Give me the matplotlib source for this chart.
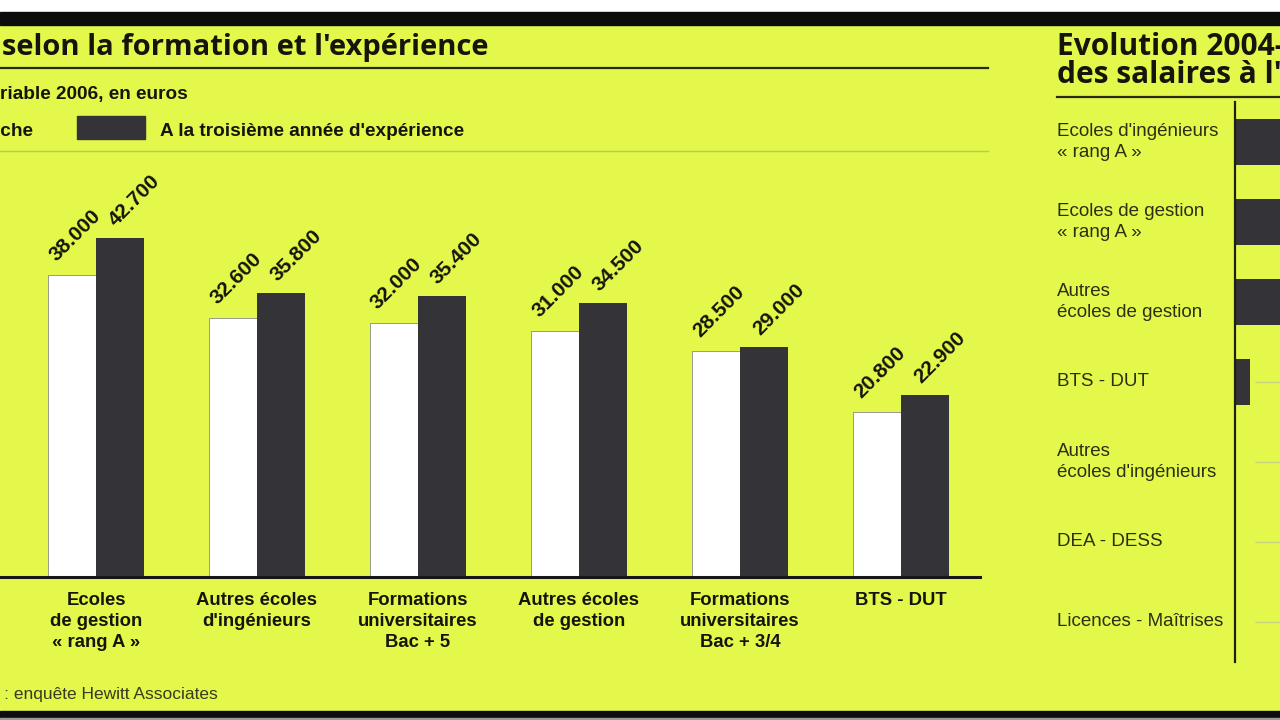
import matplotlib
matplotlib.use('Agg')
import matplotlib.pyplot as plt
from matplotlib.patches import Rectangle

# salaires fixe + variable 2006, en euros
categories = ["Ecoles d'ingénieurs\n« rang A »", "Ecoles\nde gestion\n« rang A »",
              "Autres écoles\nd'ingénieurs", "Formations\nuniversitaires\nBac + 5",
              "Autres écoles\nde gestion", "Formations\nuniversitaires\nBac + 3/4",
              "BTS - DUT"]
embauche = [38600, 38000, 32600, 32000, 31000, 28500, 20800]
troisieme = [42300, 42700, 35800, 35400, 34500, 29000, 22900]

# évolution 2004-2006 (panneau de droite, en grande partie hors cadre)
evo_labels = ["Ecoles d'ingénieurs\n« rang A »", "Ecoles de gestion\n« rang A »",
              "Autres\nécoles de gestion", "BTS - DUT",
              "Autres\nécoles d'ingénieurs", "DEA - DESS", "Licences - Maîtrises"]
evo_values = [11.0, 10.0, 9.5, 3.0, 0.0, 0.0, 0.0]

BG = '#e3f84b'
DARK = '#333338'
INK = '#15150c'
W, H = 1280, 720

cond = ['Liberation Sans', 'DejaVu Sans']
title_font = ['Open Sans', 'DejaVu Sans']

fig = plt.figure(figsize=(12.8, 7.2), dpi=100, facecolor=BG)


def fx(x):
    return x / W


def fy(y):
    return 1 - y / H


def box(x0, y0, x1, y1, color):
    fig.patches.append(Rectangle((fx(x0), fy(y1)), fx(x1) - fx(x0), fy(y0) - fy(y1),
                                 transform=fig.transFigure, color=color, zorder=0))


def hline(y, x0, x1, color, lw):
    fig.add_artist(plt.Line2D([fx(x0), fx(x1)], [fy(y), fy(y)],
                              transform=fig.transFigure, color=color, lw=lw))


# bandeaux haut / bas
box(0, 0, W, 12, 'white')
box(0, 12, W, 25, '#0c0c0c')
box(0, 711, W, 718, '#0c0c0c')
box(0, 718, W, H, '#9a9a9a')

# ---- panneau gauche ----
fig.text(fx(2), fy(48), "selon la formation et l'expérience", family=title_font,
         weight='bold', fontsize=21, color=INK, va='center', ha='left')
hline(68, 0, 988, '#2a2a10', 1.6)
fig.text(fx(0), fy(94), "riable 2006, en euros", family=cond, weight='bold',
         fontsize=13.7, color=INK, va='center', ha='left')
fig.text(fx(33), fy(131), "A l'embauche", family=cond, weight='bold',
         fontsize=13.7, color=INK, va='center', ha='right')
box(77, 116, 145, 139, DARK)
fig.text(fx(160), fy(131), "A la troisième année d'expérience", family=cond,
         weight='bold', fontsize=13.7, color=INK, va='center', ha='left')
hline(151, 0, 988, '#b9c85a', 1.0)

ax = fig.add_axes([0, fy(577), fx(980), fy(160) - fy(577)])
ax.set_facecolor('none')
bw = 48 / 161
xs = list(range(len(categories)))
ax.bar([x - bw / 2 for x in xs], embauche, width=bw, color='white',
       edgecolor='#8a8a8a', linewidth=0.6, zorder=2)
ax.bar([x + bw / 2 for x in xs], troisieme, width=bw, color=DARK, zorder=2)
for x, v1, v2 in zip(xs, embauche, troisieme):
    ax.annotate(f"{v1 // 1000}.{v1 % 1000:03d}", (x - bw / 2, v1), xytext=(-16, 13),
                textcoords='offset pixels', rotation=45, rotation_mode='anchor',
                ha='left', va='baseline', family=cond, weight='bold', fontsize=15,
                color=INK, annotation_clip=False)
    ax.annotate(f"{v2 // 1000}.{v2 % 1000:03d}", (x + bw / 2, v2), xytext=(-4, 11),
                textcoords='offset pixels', rotation=45, rotation_mode='anchor',
                ha='left', va='baseline', family=cond, weight='bold', fontsize=15,
                color=INK, annotation_clip=False)
ax.set_xticks(xs)
ax.set_xticklabels(categories, family=cond, weight='bold', fontsize=13.3,
                   color=INK, linespacing=1.3, va='top')
ax.set_xlim(1 - 96 / 161, 1 + 884 / 161)
ax.set_ylim(0, 417 / 0.00794)
ax.tick_params(axis='x', length=0, pad=11)
ax.set_yticks([])
for s in ['top', 'left', 'right']:
    ax.spines[s].set_visible(False)
ax.spines['bottom'].set_linewidth(2.2)
ax.spines['bottom'].set_color('#161616')
ax.spines['bottom'].set_zorder(3)

fig.text(fx(218), fy(695), "Source : enquête Hewitt Associates", family=cond,
         fontsize=12.5, color='#3a3a22', va='center', ha='right')

# ---- panneau droit ----
fig.text(fx(1057), fy(47), "Evolution 2004-2006", family=title_font, weight='bold',
         fontsize=21.5, color=INK, va='center', ha='left')
fig.text(fx(1057), fy(75), "des salaires à l'embauche", family=title_font,
         weight='bold', fontsize=21.5, color=INK, va='center', ha='left')
hline(97, 1057, W, '#2a2a10', 1.6)

ax2 = fig.add_axes([fx(1235), fy(662), fx(200), fy(102) - fy(662)])
ax2.set_facecolor('none')
ys = list(range(len(evo_labels)))
ax2.barh(ys, evo_values, height=46 / 80, color=DARK, zorder=2)
ax2.hlines(ys[3:], 4, 40, color='#c6d480', lw=1.0, zorder=1)
ax2.set_yticks(ys)
ax2.set_yticklabels(evo_labels, family=cond, fontsize=13.5, color='#2e2e12',
                    linespacing=1.25, ha='left', va='center')
ax2.set_xlim(0, 40)
ax2.set_ylim(6.5, -0.5)
ax2.set_xticks([])
ax2.tick_params(axis='y', length=0, pad=128)
for s in ['top', 'bottom', 'right']:
    ax2.spines[s].set_visible(False)
ax2.spines['left'].set_linewidth(1.6)
ax2.spines['left'].set_color('#202010')

fig.savefig('out.png', dpi=100, facecolor=BG)
